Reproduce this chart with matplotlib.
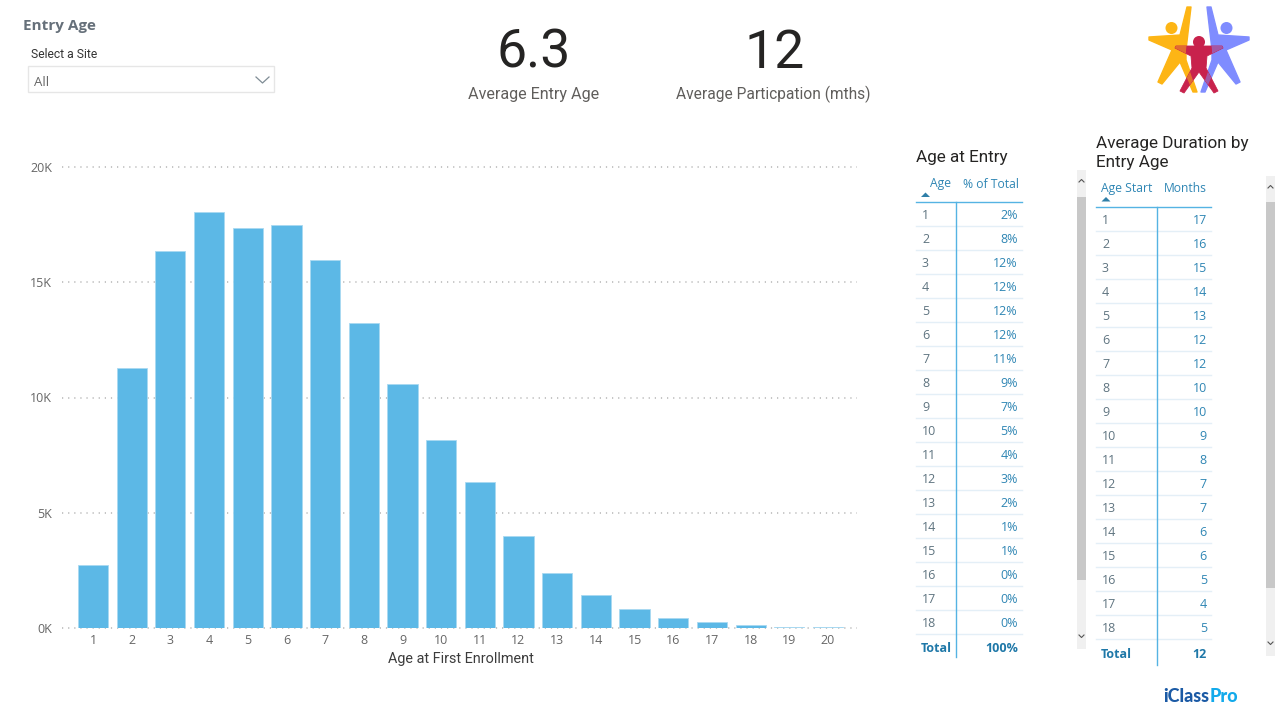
import matplotlib
matplotlib.use("Agg")
import matplotlib.pyplot as plt
from matplotlib.patches import Rectangle, Polygon, Circle

ages = list(range(1, 21))
counts = [2730, 11280, 16360, 18060, 17350, 17480, 15970, 13230, 10590, 8160,
          6330, 3990, 2390, 1430, 820, 430, 260, 130, 50, 40]
ytick_vals = [0, 5000, 10000, 15000, 20000]
ytick_labels = ["0K", "5K", "10K", "15K", "20K"]

entry_ages = [str(i) for i in range(1, 19)]
pct_total = ["2%", "8%", "12%", "12%", "12%", "12%", "11%", "9%", "7%", "5%",
             "4%", "3%", "2%", "1%", "1%", "0%", "0%", "0%"]
months = [17, 16, 15, 14, 13, 12, 12, 10, 10, 9, 8, 7, 7, 6, 6, 5, 4, 5]

W, H = 1279, 716
BODY = "Open Sans"
DIN = "Roboto"
BAR = "#5cb8e6"
TEAL = "#2f86b4"
GREY = "#5f7480"
LINE = "#e4eff7"
BLUE = "#55b3e3"

fig = plt.figure(figsize=(W / 100, H / 100), dpi=100, facecolor="white")

ax = fig.add_axes([62 / W, 1 - 628 / H, (857 - 62) / W, (628 - 167) / H])
step = (828 - 93) / 19
ax.set_xlim(1 + (62 - 93) / step, 1 + (857 - 93) / step)
ax.set_ylim(0, 20000)
ax.bar(ages, counts, width=0.78, color=BAR, edgecolor="#a9d9f1", linewidth=0.6, zorder=3)
ax.set_yticks(ytick_vals, ytick_labels)
ax.set_xticks(ages, [str(a) for a in ages])
ax.tick_params(length=0, labelsize=9, labelcolor="#666666")
ax.tick_params(axis="x", pad=4)
ax.tick_params(axis="y", pad=7)
for lab in ax.get_xticklabels() + ax.get_yticklabels():
    lab.set_family(BODY)
ax.grid(axis="y", color="#b5b5b5", linestyle=(0, (0.8, 3.2)), linewidth=1.1, zorder=1, clip_on=False)
ax.set_axisbelow(True)
for s in ax.spines.values():
    s.set_visible(False)
ax.set_facecolor("none")

px = fig.add_axes([0, 0, 1, 1], zorder=5)
px.set_xlim(0, W)
px.set_ylim(H, 0)
px.axis("off")
px.patch.set_alpha(0)


def T(x, y, s, size=9, color="#444444", ha="left", va="center", family=BODY, weight="normal"):
    return px.text(x, y, s, fontsize=size, color=color, ha=ha, va=va, family=family, fontweight=weight)


T(461, 659, "Age at First Enrollment", 10.4, "#3c3c3c", ha="center", family=DIN)

T(23, 26, "Entry Age", 11, "#66707a", weight="bold")
T(31, 54, "Select a Site", 8.7, "#333333", family=DIN)
px.add_patch(Rectangle((28, 66), 246, 26, fc="white", ec="#e6e6e6", lw=1))
T(34, 82, "All", 9.5, "#666666")
px.plot([256, 262.5, 269], [77, 83, 77], color="#7f8c95", lw=0.9)

T(534, 53.5, "6.3", 38.5, "#252423", ha="center", family=DIN)
T(534, 94, "Average Entry Age", 11.6, "#605e5c", ha="center", family=DIN)
T(775, 54, "12", 38.5, "#252423", ha="center", family=DIN)
T(773, 94, "Average Particpation (mths)", 11.2, "#605e5c", ha="center", family=DIN)


def table(x0, x1, xv, ytitle, title, head1, head2, h1x, harrow, yhead, yline, values, total,
          ybottom, head2x, dy, dtotal):
    T(x0, ytitle, title, 12.3, "#252423", family=DIN)
    T(h1x, yhead, head1, 8.7, TEAL)
    T(head2x, yhead, head2, 8.7, TEAL, ha="right")
    px.add_patch(Polygon([(harrow - 4.5, yhead + 13), (harrow + 4.5, yhead + 13), (harrow, yhead + 8.5)],
                         fc="#2f7fa8", ec="none"))
    px.plot([x0, x1 - 1], [yline, yline], color=BLUE, lw=1)
    for i, (a, v) in enumerate(zip(entry_ages, values)):
        y = yline + 12 + 24 * i
        T(x0 + 6, y + dy, a, 9, GREY)
        T(x1 - 5, y + dy, str(v), 9, TEAL, ha="right")
        px.plot([x0, x1 - 1], [y + 12, y + 12], color=LINE, lw=1)
    y = yline + 12 + 24 * len(values)
    T(x0 + 5, y + dtotal, "Total", 9, "#1f78a8", weight="bold")
    T(x1 - 5, y + dtotal, total, 9, "#1f78a8", ha="right", weight="bold")
    px.plot([xv, xv], [yline, ybottom], color=BLUE, lw=1)


table(916, 1023, 956, 157.4, "Age at Entry", "Age", "% of Total", 930, 925.5, 184, 202, pct_total,
      "100%", 657, 1018.5, 1.4, 2)
T(1096, 143.4, "Average Duration by", 12.3, "#252423", family=DIN)
table(1096, 1212, 1157, 162, "Entry Age", "Age Start", "Months", 1101, 1106, 188.5, 207, months,
      "12", 665, 1206.5, 2, 4)


def scrollbar(x, y0, y1, t0, t1):
    px.add_patch(Rectangle((x, y0), 9, y1 - y0, fc="#f0f0f0", ec="none"))
    px.add_patch(Rectangle((x, t0), 9, t1 - t0, fc="#c8c8c8", ec="none"))
    c = x + 4.5
    px.plot([c - 2.5, c, c + 2.5], [y0 + 12, y0 + 9.5, y0 + 12], color="#555555", lw=0.8)
    px.plot([c - 2.5, c, c + 2.5], [y1 - 14, y1 - 11.5, y1 - 14], color="#555555", lw=0.8)


scrollbar(1077, 170, 649, 197, 580)
scrollbar(1266, 176, 656, 202, 588)

# logo: two mirrored adults and a child, with tinted overlaps
YEL, PUR, RED = "#fdb515", "#7f8cff", "#c8224c"
adult = [(-12, 7), (-8, 7), (-13, 50), (-13, 60), (-2, 92), (-6, 92), (-19, 62), (-37, 84),
         (-41, 82), (-27, 50), (-50, 40), (-50, 37), (-19, 35)]
child = [(1176, 46), (1222, 46), (1223, 48), (1207, 56), (1206, 68), (1218, 91), (1214, 93),
         (1199, 72), (1184, 93), (1180, 91), (1192, 68), (1191, 56), (1175, 48)]
adult_shapes = []
for color, sign in ((YEL, 1), (PUR, -1)):
    pts = [(1199 + sign * a, b) for a, b in adult]
    adult_shapes.append((pts, color))
    px.add_patch(Polygon(pts, fc=color, ec=color, lw=1, joinstyle="round"))
    px.add_patch(Circle((1199 + sign * -27.5, 28), 6, fc=color, ec="none"))
px.add_patch(Circle((1199, 42), 6, fc=RED, ec="none"))
kid = Polygon(child, fc=RED, ec=RED, lw=0.6, joinstyle="round")
px.add_patch(kid)
for pts, color in adult_shapes:
    tint = Polygon(pts, fc=color, ec="none", alpha=0.5)
    px.add_patch(tint)
    tint.set_clip_path(kid)

T(1163, 696, "iClass", 13, "#1b5aa5", family="Lato", weight="black")
T(1210, 696, "Pro", 13, "#12aaeb", family="Lato", weight="black")

fig.savefig("out.png", dpi=100, facecolor="white")
